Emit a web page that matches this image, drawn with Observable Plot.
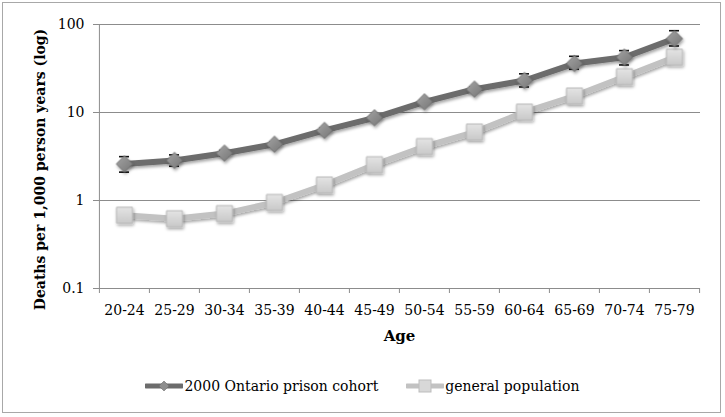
<!DOCTYPE html>
<html>
<head>
<meta charset="utf-8">
<script src="https://cdn.jsdelivr.net/npm/d3@7"></script>
<script src="https://cdn.jsdelivr.net/npm/@observablehq/plot@0.6"></script>
<style>
  html, body { margin: 0; padding: 0; background: #fff; }
  #wrap { position: relative; width: 725px; height: 417px; overflow: hidden; font-family: "DejaVu Serif", serif; }
  #border { position: absolute; left: 2px; top: 2px; width: 717px; height: 409px; border: 1.5px solid #a8a8a8; }
  #chart { position: absolute; left: 0; top: 0; }
  #legend { position: absolute; left: 0; top: 376px; width: 725px; height: 20px; display: flex; justify-content: center; align-items: center; font-size: 14px; color: #000; }
  .item { display: flex; align-items: center; margin: 0 14px; }
  .item svg { margin-right: 1px; }
</style>
</head>
<body>
<div id="wrap">
  <div id="border"></div>
  <div id="chart"></div>
  <div id="legend"></div>
</div>
<script>
const ages = ["20-24","25-29","30-34","35-39","40-44","45-49","50-54","55-59","60-64","65-69","70-74","75-79"];
const prison = [2.6, 2.85, 3.45, 4.35, 6.25, 8.7, 13.2, 18.4, 23.1, 36, 42.5, 69];
const prisonLo = [2.1, 2.45, 3.2, 4.1, 5.9, 8.3, 12.6, 17.5, 19.5, 31, 34.7, 57];
const prisonHi = [3.15, 3.3, 3.7, 4.6, 6.6, 9.1, 13.8, 19.4, 27.5, 43.5, 50.5, 85];
const general = [0.68, 0.62, 0.71, 0.95, 1.5, 2.55, 4.1, 6.0, 10.1, 15.4, 25.5, 42.5];
const yTicks = [0.1, 1, 10, 100];
const seriesNames = ["2000 Ontario prison cohort", "general population"];

const data = ages.map((age, i) => ({age, prison: prison[i], lo: prisonLo[i], hi: prisonHi[i], general: general[i]}));

const axisColor = "#8c8c8c";
const chart = Plot.plot({
  width: 725,
  height: 345,
  marginLeft: 98,
  marginRight: 25,
  marginTop: 24,
  marginBottom: 57,
  style: {fontFamily: "DejaVu Serif", fontSize: "14px", color: "#000", background: "transparent"},
  x: {type: "band", domain: ages, padding: 0},
  y: {type: "log", domain: [0.1, 100]},
  marks: [
    Plot.gridY([1, 10, 100], {stroke: axisColor, strokeOpacity: 1, strokeWidth: 1}),
    Plot.ruleY([0.1], {stroke: axisColor, strokeWidth: 1}),
    Plot.ruleX([ages[0]], {dx: -25.08, stroke: axisColor, strokeWidth: 1}),
    Plot.ruleX(ages, {x: d => d, dx: -25.08, insetTop: 264, insetBottom: -5, stroke: axisColor}),
    Plot.ruleX([ages[ages.length - 1]], {dx: 25.08, insetTop: 264, insetBottom: -5, stroke: axisColor}),
    Plot.axisY(yTicks, {tickSize: 5, tickPadding: 9, tickFormat: d => String(d), stroke: axisColor, label: null, fontSize: 14}),
    Plot.axisX({tickSize: 0, tickPadding: 17, label: null, fontSize: 14}),
    Plot.line(data, {x: "age", y: "general", stroke: "#c2c2c2", strokeWidth: 6}),
    Plot.dot(data, {x: "age", y: "general", symbol: "square", r: 9, fill: "url(#gsq)", stroke: "#b9b9b9", strokeWidth: 1}),
    Plot.line(data, {x: "age", y: "prison", stroke: "#6c6c6c", strokeWidth: 6}),
    Plot.ruleX(data, {x: "age", y1: "lo", y2: "hi", stroke: "#111", strokeWidth: 1.3}),
    Plot.tickY(data, {x: "age", y: "hi", insetLeft: 20, insetRight: 20, stroke: "#111", strokeWidth: 1.6}),
    Plot.tickY(data, {x: "age", y: "lo", insetLeft: 20, insetRight: 20, stroke: "#111", strokeWidth: 1.6}),
    Plot.dot(data, {x: "age", y: "prison", symbol: "diamond2", r: 7.4, fill: "url(#gdi)", stroke: "#6a6a6a", strokeWidth: 0.8}),
    Plot.text(["Age"], {frameAnchor: "bottom", dy: 52, fontWeight: "bold", fontSize: 15}),
    Plot.text(["Deaths per 1,000 person years (log)"], {frameAnchor: "left", textAnchor: "middle", rotate: -90, dx: -58, dy: 13, fontWeight: "bold", fontSize: 14})
  ]
});

const svg = d3.select(chart);
const defs = svg.insert("defs", ":first-child");
const g1 = defs.append("linearGradient").attr("id", "gsq").attr("x1", 0).attr("y1", 0).attr("x2", 0).attr("y2", 1);
g1.append("stop").attr("offset", "0%").attr("stop-color", "#e4e4e4");
g1.append("stop").attr("offset", "100%").attr("stop-color", "#c9c9c9");
const g2 = defs.append("linearGradient").attr("id", "gdi").attr("x1", 0).attr("y1", 0).attr("x2", 1).attr("y2", 1);
g2.append("stop").attr("offset", "0%").attr("stop-color", "#a4a4a4");
g2.append("stop").attr("offset", "100%").attr("stop-color", "#767676");
const f = defs.append("filter").attr("id", "shadow").attr("x", "-50%").attr("y", "-50%").attr("width", "200%").attr("height", "200%");
f.append("feDropShadow").attr("dx", 1).attr("dy", 2).attr("stdDeviation", 1.5).attr("flood-color", "#000").attr("flood-opacity", 0.35);
svg.selectAll('g[aria-label="dot"], g[aria-label="line"]').attr("filter", "url(#shadow)");

document.getElementById("chart").appendChild(chart);

// Legend
const legend = d3.select("#legend");
const items = [
  {name: seriesNames[0], color: "#6c6c6c", marker: "diamond"},
  {name: seriesNames[1], color: "#c2c2c2", marker: "square"}
];
items.forEach(it => {
  const div = legend.append("div").attr("class", "item");
  const s = div.append("svg").attr("width", 38).attr("height", 16);
  s.append("line").attr("x1", 1).attr("x2", 37).attr("y1", 8).attr("y2", 8).attr("stroke", it.color).attr("stroke-width", 5).attr("stroke-linecap", "round");
  if (it.marker === "diamond") {
    s.append("path").attr("d", "M19,3 L24,8 L19,13 L14,8 Z").attr("fill", "#8e8e8e").attr("stroke", "#707070").attr("stroke-width", 0.6);
  } else {
    s.append("rect").attr("x", 13).attr("y", 2).attr("width", 12).attr("height", 12).attr("fill", "#d8d8d8").attr("stroke", "#bdbdbd");
  }
  div.append("span").text(it.name);
});
</script>
</body>
</html>
